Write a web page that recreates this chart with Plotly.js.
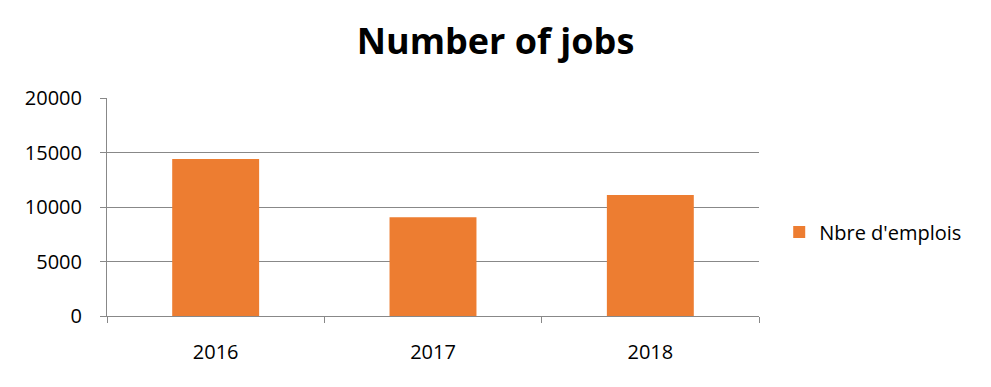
<!DOCTYPE html>
<html><head><meta charset="utf-8">
<script src="https://cdn.plot.ly/plotly-3.0.1.min.js"></script>
<style>body{margin:0;background:#fff}#c{width:991px;height:387px}</style>
</head><body><div id="c"></div>
<script>
const years = ['2016', '2017', '2018'];
const jobs = [14400, 9060, 11090];
const seriesName = "Nbre d'emplois";
const titleText = 'Number of jobs';
const yTicks = [0, 5000, 10000, 15000, 20000];
const yTickText = ['0', '5000', '10000', '15000', '20000'];

const font = 'Open Sans, Lato, sans-serif';
Plotly.newPlot('c', [{
  type: 'bar', x: years, y: jobs, name: seriesName,
  marker: {color: '#ED7D31'}, showlegend: true
}], {
  width: 991, height: 387,
  margin: {l: 107, r: 232, t: 98, b: 71},
  paper_bgcolor: '#fff', plot_bgcolor: '#fff',
  font: {family: font, color: '#000', size: 20},
  title: {text: '<b>' + titleText + '</b>', x: 0.5, xanchor: 'center', y: 0.893, yanchor: 'middle',
          font: {family: font, size: 36, color: '#000'}},
  bargap: 0.6,
  xaxis: {type: 'category', showline: true, linecolor: '#888', linewidth: 1,
          ticks: 'outside', tickson: 'boundaries', ticklen: 6, tickcolor: '#888',
          ticklabelstandoff: 18, tickfont: {size: 20, family: font}, showgrid: false},
  yaxis: {range: [0, 20000], tickvals: yTicks, ticktext: yTickText, showline: true, linecolor: '#888', linewidth: 1,
          ticks: 'outside', ticklen: 6, tickcolor: '#888', gridcolor: '#888', gridwidth: 1,
          zeroline: false, ticklabelstandoff: 14, tickfont: {size: 20, family: font}},
  legend: {x: 1.031, xanchor: 'left', y: 0.385, yanchor: 'middle', font: {size: 20, family: font},
           itemwidth: 30}
}, {staticPlot: true});
</script></body></html>
